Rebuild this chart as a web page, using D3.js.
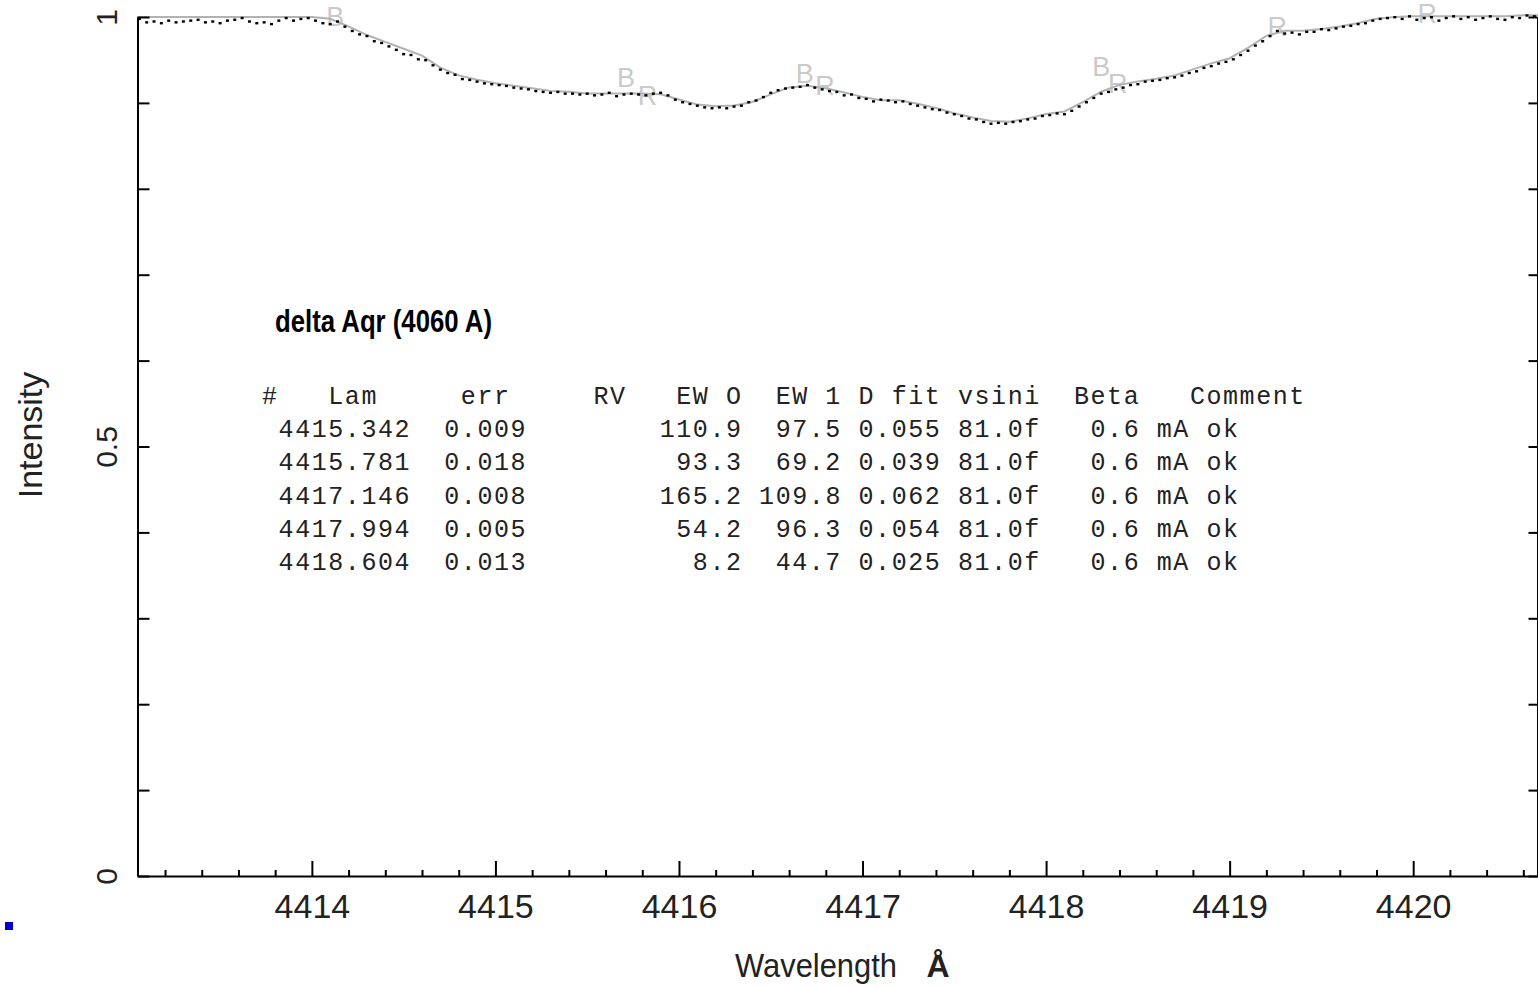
<!DOCTYPE html>
<html><head><meta charset="utf-8">
<script src="https://cdn.jsdelivr.net/npm/d3@7/dist/d3.min.js"></script>
<style>html,body{margin:0;padding:0;background:#fff;overflow:hidden}</style>
</head><body><svg id="c" width="1538" height="987"></svg>
<script>
// ---------------- data ----------------
// observed spectrum, sampled on a uniform wavelength grid
const obsStart = 4413.06;
const obsStep = 0.04;
const obsFlux = [
0.998,0.994,0.995,0.993,0.996,0.994,0.995,0.996,0.997,0.994,
0.995,0.993,0.996,0.997,0.999,0.995,0.993,0.994,0.992,0.996,
0.999,0.996,0.998,0.999,0.996,0.993,0.992,0.995,0.989,0.984,
0.980,0.978,0.972,0.970,0.966,0.962,0.957,0.956,0.951,0.950,
0.944,0.939,0.935,0.933,0.928,0.927,0.925,0.923,0.922,0.921,
0.920,0.918,0.917,0.916,0.914,0.913,0.912,0.913,0.911,0.911,
0.910,0.911,0.909,0.910,0.912,0.908,0.910,0.911,0.910,0.909,
0.911,0.912,0.909,0.904,0.901,0.899,0.897,0.895,0.894,0.895,
0.894,0.896,0.897,0.901,0.903,0.907,0.912,0.915,0.917,0.918,
0.919,0.921,0.918,0.916,0.914,0.913,0.909,0.910,0.906,0.905,
0.902,0.904,0.903,0.901,0.902,0.899,0.897,0.895,0.893,0.892,
0.889,0.887,0.885,0.882,0.881,0.878,0.876,0.877,0.876,0.878,
0.879,0.881,0.882,0.885,0.886,0.888,0.887,0.891,0.896,0.901,
0.906,0.911,0.913,0.916,0.918,0.921,0.922,0.925,0.926,0.927,
0.929,0.930,0.932,0.935,0.937,0.941,0.943,0.946,0.948,0.951,
0.956,0.961,0.967,0.972,0.978,0.984,0.981,0.982,0.980,0.983,
0.983,0.986,0.985,0.987,0.989,0.990,0.992,0.993,0.996,0.998,
0.999,1.000,0.998,1.001,0.997,0.999,1.000,0.996,0.999,1.001,
0.998,1.000,0.997,0.999,1.001,0.998,0.997,1.000,0.999,1.002,
1.001];

// fitted model, on a 0.1 A grid
const fitStart = 4413.0;
const fitStep = 0.1;
const fitFlux = [
1.000,1.000,1.000,1.000,1.000,1.000,1.000,1.000,1.000,1.000,
1.000,0.998,0.989,0.979,0.971,0.963,0.955,0.941,0.932,0.927,
0.923,0.920,0.917,0.914,0.913,0.911,0.911,0.911,0.911,0.910,
0.904,0.898,0.896,0.897,0.901,0.910,0.918,0.920,0.917,0.912,
0.907,0.903,0.903,0.899,0.894,0.888,0.883,0.879,0.878,0.882,
0.887,0.890,0.901,0.913,0.921,0.925,0.928,0.932,0.939,0.946,
0.952,0.964,0.978,0.984,0.984,0.986,0.989,0.993,0.998,1.000,
1.001,1.001,1.001,1.001,1.001,1.001,1.002,1.002];

// fit region markers
const markerLabel = ["B","B","R","B","R","B","R","R","R"];
const markerLam   = [4414.128,4415.712,4415.828,4416.685,4416.795,4418.300,4418.390,4419.259,4420.076];
const markerFlux  = [0.989,0.918,0.898,0.923,0.909,0.931,0.912,0.978,0.993];

// axes
const xDomain = [4413.05, 4420.68];
const xMajorTicks = [4414,4415,4416,4417,4418,4419,4420];
const yTickValues = [0,0.1,0.2,0.3,0.4,0.5,0.6,0.7,0.8,0.9,1.0];
const yLabelValues = [0,0.5,1];
const yLabelText = ["0","0.5","1"];

// title / labels
const titleText = "delta Aqr (4060 A)";
const xLabelText = "Wavelength";
const xUnitText = "\u00C5";
const yLabelTextMain = "Intensity";

// line table
const tableHeader = ["#","Lam","err","RV","EW O","EW 1","D fit","vsini","Beta","Comment"];
const lineLam   = [4415.342,4415.781,4417.146,4417.994,4418.604];
const lineErr   = [0.009,0.018,0.008,0.005,0.013];
const lineRV    = ["","","","",""];
const lineEW0   = [110.9,93.3,165.2,54.2,8.2];
const lineEW1   = [97.5,69.2,109.8,96.3,44.7];
const lineDfit  = [0.055,0.039,0.062,0.054,0.025];
const lineVsini = [81.0,81.0,81.0,81.0,81.0];
const lineVflag = ["f","f","f","f","f"];
const lineBeta  = [0.6,0.6,0.6,0.6,0.6];
const lineUnit  = ["mA","mA","mA","mA","mA"];
const lineComment = ["ok","ok","ok","ok","ok"];

// ---------------- drawing ----------------
(function () {
const svg = d3.select("#c");
const W = 1538, H = 987;
const pL = 137.5, pR = 1538, pT = 17, pB = 876;

const x = d3.scaleLinear().domain(xDomain).range([pL, pR]);
const y = d3.scaleLinear().domain([0, 1]).range([pB, pT]);

svg.append("rect").attr("width", W).attr("height", H).attr("fill", "#fff");

svg.append("defs").append("clipPath").attr("id", "plotclip")
  .append("rect").attr("x", pL).attr("y", 0).attr("width", pR - pL).attr("height", pB);

const plot = svg.append("g").attr("clip-path", "url(#plotclip)");

// markers (behind the data)
plot.selectAll("text.marker").data(markerLabel.map((t, i) => ({ t, l: markerLam[i], f: markerFlux[i] })))
  .enter().append("text").attr("class", "marker")
  .attr("x", d => x(d.l)).attr("y", d => y(d.f))
  .attr("text-anchor", "middle")
  .attr("font-family", "Liberation Sans, Arial, sans-serif").attr("font-size", 27)
  .attr("fill", "#cacaca").text(d => d.t);

// fitted line
const fitData = fitFlux.map((f, i) => ({ l: fitStart + i * fitStep, f }));
plot.append("path").datum(fitData)
  .attr("fill", "none").attr("stroke", "#b2b2b2").attr("stroke-width", 2)
  .attr("d", d3.line().x(d => x(d.l)).y(d => y(d.f)));

// observed points
const obsData = obsFlux.map((f, i) => ({ l: obsStart + i * obsStep, f }));
plot.selectAll("rect.pt").data(obsData).enter().append("rect").attr("class", "pt")
  .attr("x", d => x(d.l) - 1.5).attr("y", d => y(d.f) - 1)
  .attr("width", 3).attr("height", 2.4).attr("fill", "#000");

// left axis ticks (inward)
const axL = svg.append("g").attr("transform", `translate(${pL},0)`)
  .call(d3.axisRight(y).tickValues(yTickValues).tickSize(12).tickSizeOuter(0).tickFormat(""));
// right axis ticks (inward)
const axR = svg.append("g").attr("transform", `translate(${pR - 0.5},0)`)
  .call(d3.axisLeft(y).tickValues(yTickValues).tickSize(9).tickSizeOuter(0).tickFormat(""));
// bottom axis major + minor (inward)
const axB = svg.append("g").attr("transform", `translate(0,${pB})`)
  .call(d3.axisTop(x).tickValues(xMajorTicks).tickSize(15).tickSizeOuter(0).tickFormat(""));
const minorTicks = d3.range(4413.2, 4420.7, 0.2).filter(v => Math.abs(v - Math.round(v)) > 0.05);
const axBm = svg.append("g").attr("transform", `translate(0,${pB})`)
  .call(d3.axisTop(x).tickValues(minorTicks).tickSize(6).tickSizeOuter(0).tickFormat(""));
axBm.select(".domain").remove();
[axL, axR, axB, axBm].forEach(g => {
  g.selectAll("line").attr("stroke", "#000").attr("stroke-width", 2);
  g.select(".domain").attr("stroke", "#000").attr("stroke-width", 2);
});

// bottom tick labels
const axBl = svg.append("g").attr("transform", `translate(0,${pB})`)
  .call(d3.axisBottom(x).tickValues(xMajorTicks).tickSize(0).tickPadding(18).tickFormat(d3.format("d")));
axBl.select(".domain").remove();
axBl.selectAll("text").attr("font-family", "Liberation Sans, Arial, sans-serif")
  .attr("font-size", 34).attr("fill", "#222");

// left tick labels (rotated)
const axLl = svg.append("g").attr("transform", `translate(117,0)`)
  .call(d3.axisLeft(y).tickValues(yLabelValues).tickSize(0).tickFormat((d, i) => yLabelText[i]));
axLl.select(".domain").remove();
axLl.selectAll("text").attr("transform", "rotate(-90)").attr("x", 0).attr("y", 0).attr("dy", 0)
  .attr("text-anchor", "middle")
  .attr("font-family", "Liberation Sans, Arial, sans-serif").attr("font-size", 30).attr("fill", "#222");

// axis titles
svg.append("text").attr("x", 735).attr("y", 977)
  .attr("font-family", "Liberation Sans, Arial, sans-serif").attr("font-size", 34)
  .attr("textLength", 162).attr("lengthAdjust", "spacingAndGlyphs")
  .attr("fill", "#222").text(xLabelText);
svg.append("text").attr("x", 938).attr("y", 977).attr("text-anchor", "middle")
  .attr("font-family", "Liberation Sans, Arial, sans-serif").attr("font-size", 32).attr("font-weight", "bold")
  .attr("fill", "#222").text(xUnitText);
svg.append("text").attr("transform", "translate(42,435) rotate(-90)").attr("text-anchor", "middle")
  .attr("font-family", "Liberation Sans, Arial, sans-serif").attr("font-size", 34)
  .attr("fill", "#222").text(yLabelTextMain);

// title
svg.append("text").attr("x", 275).attr("y", 332)
  .attr("font-family", "Liberation Sans, Arial, sans-serif").attr("font-size", 32).attr("font-weight", "bold")
  .attr("textLength", 217).attr("lengthAdjust", "spacingAndGlyphs")
  .attr("fill", "#000").text(titleText);

// table
const cw = 16.57, x0 = 262;
const headerBase = 404, rowBase = 437, rowStep = 33.25;
const monoFont = "Liberation Mono, DejaVu Sans Mono, monospace";
const tbl = svg.append("g").attr("font-family", monoFont).attr("font-size", 25)
  .attr("letter-spacing", "1.57px").attr("fill", "#222");
const headerCols = [0, 4, 12, 20, 25, 31, 36, 42, 49, 56];
tbl.selectAll("text.hdr").data(tableHeader).enter().append("text").attr("class", "hdr")
  .attr("x", (d, i) => x0 + headerCols[i] * cw).attr("y", headerBase)
  .style("white-space", "pre").text(d => d);

const colsDef = [
  { arr: lineLam, fmt: v => v.toFixed(3), col: 1, align: "l" },
  { arr: lineErr, fmt: v => v.toFixed(3), col: 11, align: "l" },
  { arr: lineRV, fmt: v => v, col: 20, align: "l" },
  { arr: lineEW0, fmt: v => v.toFixed(1), col: 28, align: "r" },
  { arr: lineEW1, fmt: v => v.toFixed(1), col: 34, align: "r" },
  { arr: lineDfit, fmt: v => v.toFixed(3), col: 36, align: "l" },
  { arr: lineVsini, fmt: (v, i) => v.toFixed(1) + lineVflag[i], col: 42, align: "l" },
  { arr: lineBeta, fmt: v => v.toFixed(1), col: 52, align: "r" },
  { arr: lineUnit, fmt: v => v, col: 54, align: "l" },
  { arr: lineComment, fmt: v => v, col: 57, align: "l" }
];
lineLam.forEach((_, r) => {
  colsDef.forEach(c => {
    const s = c.fmt(c.arr[r], r);
    if (!s) return;
    const startCol = c.align === "r" ? c.col - s.length + 1 : c.col;
    tbl.append("text").attr("x", x0 + startCol * cw).attr("y", rowBase + r * rowStep).text(s);
  });
});

// small blue square
svg.append("rect").attr("x", 5).attr("y", 922).attr("width", 8).attr("height", 8).attr("fill", "#0000cc");
})();
</script></body></html>
